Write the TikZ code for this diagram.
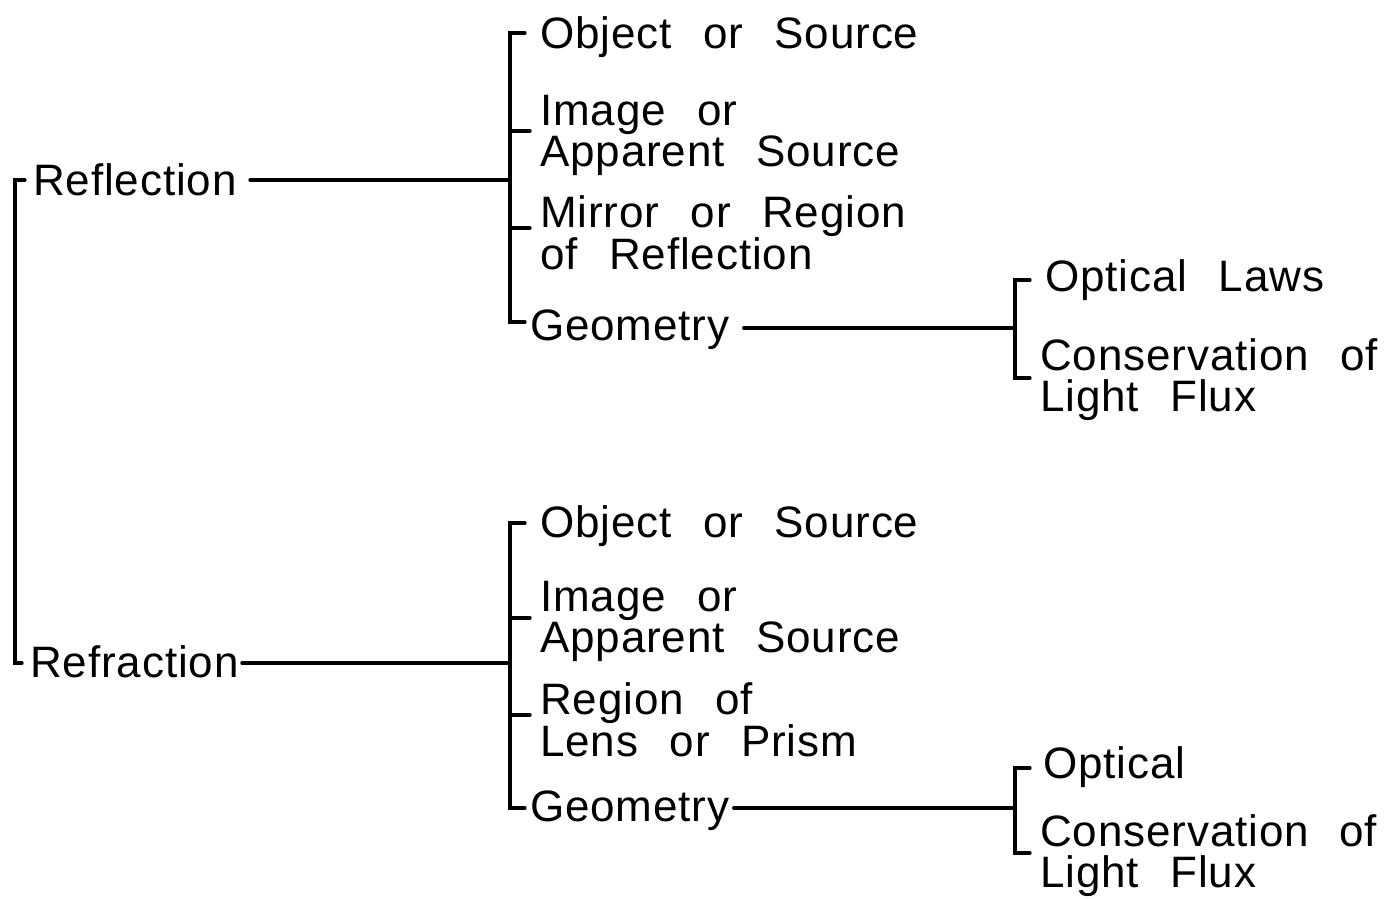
\documentclass[tikz,border=0pt]{standalone}
\usepackage{fontspec}
\setmainfont{Liberation Sans}[WordSpace=2.4,LetterSpace=2]
\begin{document}
\begin{tikzpicture}[x=1pt,y=-1pt,
  lbl/.style={anchor=west,inner sep=0pt,align=left,
    font=\fontsize{44}{41}\selectfont},
  wire/.style={line width=3.2pt,line cap=round,line join=miter}]
\useasboundingbox (0,0) rectangle (1386,899);
% text nodes
\node[lbl] (refl) at (33,180) {Reflection};
\node[lbl] (refr) at (30,662) {Refraction};
\node[lbl] (o1) at (540,37) {Object or Source};
\node[lbl] (i1) at (540,135) {Image or\\Apparent Source};
\node[lbl] (m1) at (540,233) {Mirror or Region\\of Reflection};
\node[lbl] (g1) at (530,330) {Geometry};
\node[lbl] (ol1) at (1045,280) {Optical Laws};
\node[lbl] (c1) at (1040,380) {Conservation of\\Light Flux};
\node[lbl] (o2) at (540,526) {Object or Source};
\node[lbl] (i2) at (540,621) {Image or\\Apparent Source};
\node[lbl] (r2) at (540,720) {Region of\\Lens or Prism};
\node[lbl] (g2) at (530,811) {Geometry};
\node[lbl] (ol2) at (1043,767) {Optical};
\node[lbl] (c2) at (1040,856) {Conservation\hspace{30pt}of\\Light Flux};
% bracket coordinates
\coordinate (L0) at (25,180);  \coordinate (L1) at (15,180);
\coordinate (L2) at (15,663);  \coordinate (L3) at (22,663);
\coordinate (A0) at (525,33);  \coordinate (A1) at (510,33);
\coordinate (A2) at (510,322); \coordinate (A3) at (525,322);
\coordinate (Ai) at (530,131); \coordinate (Am) at (530,228);
\coordinate (Aj) at (510,180);
\coordinate (B0) at (1030,280); \coordinate (B1) at (1015,280);
\coordinate (B2) at (1015,378); \coordinate (B3) at (1030,378);
\coordinate (Bj) at (1015,328);
\coordinate (C0) at (525,523);  \coordinate (C1) at (510,523);
\coordinate (C2) at (510,808);  \coordinate (C3) at (525,808);
\coordinate (Ci) at (530,618);  \coordinate (Cr) at (530,715);
\coordinate (Cj) at (510,663);
\coordinate (D0) at (1030,768); \coordinate (D1) at (1015,768);
\coordinate (D2) at (1015,853); \coordinate (D3) at (1030,853);
\coordinate (Dj) at (1015,808);
% left bracket
\draw[wire] (L0) -- (L1) -- (L2) -- (L3);
\draw[wire] ([xshift=13pt]refl.east |- Aj) -- (Aj);
\draw[wire] ([xshift=3pt]refr.east |- Cj) -- (Cj);
% upper middle bracket
\draw[wire] (A0) -- (A1) -- (A2) -- (A3);
\draw[wire] (Ai -| A1) -- (Ai);
\draw[wire] (Am -| A1) -- (Am);
\draw[wire] ([xshift=14pt]g1.east |- Bj) -- (Bj);
% upper right bracket
\draw[wire] (B0) -- (B1) -- (B2) -- (B3);
% lower middle bracket
\draw[wire] (C0) -- (C1) -- (C2) -- (C3);
\draw[wire] (Ci -| C1) -- (Ci);
\draw[wire] (Cr -| C1) -- (Cr);
\draw[wire] ([xshift=4pt]g2.east |- Dj) -- (Dj);
% lower right bracket
\draw[wire] (D0) -- (D1) -- (D2) -- (D3);
\end{tikzpicture}
\end{document}
